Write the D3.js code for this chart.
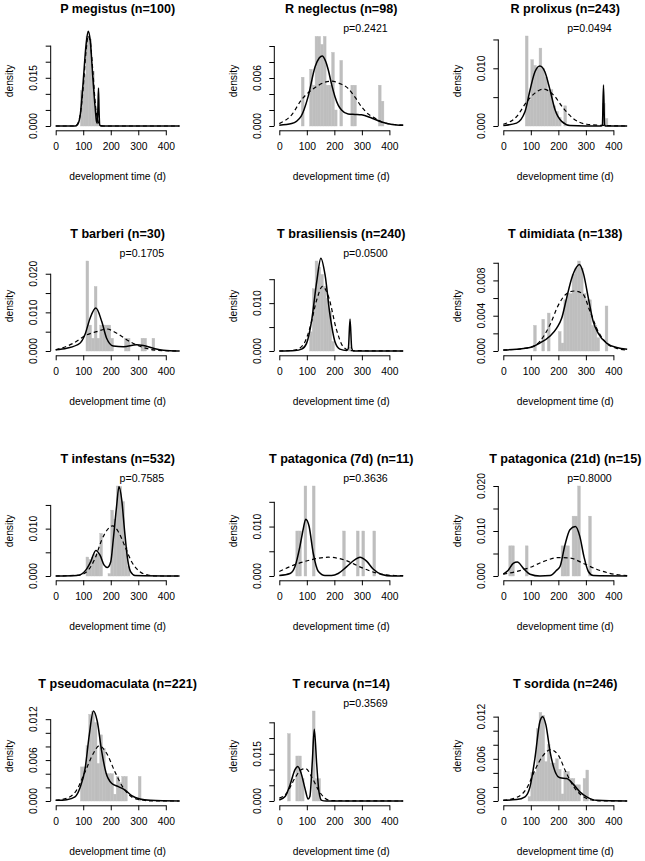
<!DOCTYPE html>
<html>
<head>
<meta charset="utf-8">
<script src="https://cdn.jsdelivr.net/npm/d3@7"></script>
<style>
  body { margin: 0; background: #fff; }
  svg { display: block; font-family: "Liberation Sans", Arial, sans-serif; }
</style>
</head>
<body>
<div id="chart"></div>
<script>
/* DATA */
const titles = ["P megistus (n=100)", "R neglectus (n=98)", "R prolixus (n=243)",
  "T barberi (n=30)", "T brasiliensis (n=240)", "T dimidiata (n=138)",
  "T infestans (n=532)", "T patagonica (7d) (n=11)", "T patagonica (21d) (n=15)",
  "T pseudomaculata (n=221)", "T recurva (n=14)", "T sordida (n=246)"];
const pLabels = [null, "p=0.2421", "p=0.0494", "p=0.1705", "p=0.0500", null,
  "p=0.7585", "p=0.3636", "p=0.8000", null, "p=0.3569", null];
// top of each density axis (largest histogram bar)
const yMaxes = [0.028, 0.01125, 0.0156, 0.0233, 0.0188, 0.0102, 0.019, 0.0182, 0.02, 0.0132, 0.0286, 0.0128];
const yTickSteps = [0.005, 0.002, 0.005, 0.005, 0.005, 0.002, 0.005, 0.005, 0.005, 0.002, 0.005, 0.002];
const yTickLabels = [["0.000", "0.015"], ["0.000", "0.006"], ["0.000", "0.010"], ["0.000", "0.010", "0.020"],
  ["0.000", "0.010"], ["0.000", "0.004", "0.008"], ["0.000", "0.010"], ["0.000", "0.010"],
  ["0.000", "0.010", "0.020"], ["0.000", "0.006", "0.012"], ["0.000", "0.015"], ["0.000", "0.006", "0.012"]];
const xTicks = [0, 100, 200, 300, 400];

// histograms: [bin start (d), density], bins 10 d wide
const histPMegistus = [[90,0.011],[100,0.016],[110,0.028],[120,0.027],[130,0.017],[140,0.005],[150,0.002]];
const histRNeglectus = [[80,0.0061],[110,0.0071],[120,0.0051],[130,0.0112],[140,0.0112],[150,0.0102],[160,0.0112],[170,0.0051],[180,0.0051],[190,0.0092],[200,0.002],[220,0.0082],[260,0.0051],[270,0.0051],[360,0.0051],[370,0.0031]];
const histRProlixus = [[80,0.0156],[90,0.0045],[100,0.0115],[110,0.0105],[120,0.0100],[130,0.0135],[140,0.0100],[150,0.0085],[160,0.0063],[170,0.0063],[180,0.0035],[190,0.0025],[200,0.0015],[220,0.0035],[360,0.0039],[370,0.0013]];
const histTBarberi = [[110,0.0233],[120,0.0067],[130,0.0033],[140,0.0167],[150,0.0033],[160,0.0067],[170,0.0067],[180,0.0067],[190,0.0067],[200,0.0033],[250,0.0033],[260,0.0033],[310,0.0033],[320,0.0033],[350,0.0033]];
const histTBrasiliensis = [[110,0.004],[120,0.013],[130,0.0188],[140,0.0175],[150,0.016],[160,0.0135],[170,0.011],[180,0.0083],[190,0.002],[250,0.0008]];
const histTDimidiata = [[110,0.0029],[140,0.0036],[160,0.0043],[200,0.0022],[210,0.0009],[220,0.0058],[230,0.0065],[240,0.0065],[250,0.0087],[260,0.0094],[270,0.0102],[280,0.0094],[290,0.0065],[300,0.0058],[310,0.0058],[320,0.0029],[330,0.0029],[340,0.0015],[370,0.0051]];
const histTInfestans = [[110,0.004],[120,0.0035],[130,0.004],[140,0.0045],[150,0.0045],[160,0.009],[190,0.0005],[200,0.0139],[210,0.012],[220,0.019],[230,0.0189],[240,0.0157],[250,0.006],[260,0.002]];
const histTPatagonica7 = [[60,0.0091],[70,0.0091],[90,0.0182],[120,0.0182],[230,0.0091],[280,0.0091],[300,0.0091],[340,0.0091]];
const histTPatagonica21 = [[20,0.0067],[30,0.0067],[80,0.0067],[210,0.0067],[220,0.0067],[230,0.0067],[250,0.0133],[260,0.0133],[270,0.02],[310,0.0133]];
const histTPseudomaculata = [[90,0.005],[100,0.005],[110,0.0081],[120,0.0127],[130,0.0131],[140,0.0115],[150,0.0055],[160,0.0097],[170,0.0077],[180,0.004],[190,0.004],[200,0.004],[210,0.001],[220,0.0036],[230,0.0027],[240,0.0036],[250,0.0036],[300,0.0036]];
const histTRecurva = [[30,0.0214],[60,0.0143],[70,0.0143],[80,0.0071],[120,0.0286],[130,0.0071],[140,0.0071]];
const histTSordida = [[90,0.0006],[100,0.0041],[110,0.0041],[120,0.0103],[130,0.0126],[140,0.0122],[150,0.0056],[160,0.008],[170,0.0054],[180,0.0054],[190,0.006],[200,0.0045],[210,0.001],[220,0.0042],[230,0.0042],[240,0.0032],[250,0.0032],[260,0.0023],[270,0.0023],[290,0.0032],[300,0.0044]];

// solid curves: [day, density]
const fitPMegistus = [[0,0],[70,0],[80,0.0005],[90,0.004],[100,0.014],[110,0.025],[118,0.0295],[125,0.027],[135,0.015],[145,0.004],[148,0.0015],[151,0.0008],[153.5,0.006],[155.5,0.0118],[157.5,0.005],[160,0.0003],[165,0],[450,0]];
const fitRNeglectus = [[0,0.0001],[45,0.0003],[79,0.0012],[105,0.0037],[130,0.0074],[145,0.0085],[156,0.00875],[167,0.0082],[178,0.007],[190,0.0052],[202,0.0037],[214,0.0026],[226,0.002],[250,0.0015],[275,0.00145],[299,0.0014],[335,0.001],[372,0.0005],[410,0.0002],[450,0.0001]];
const fitRProlixus = [[0,0.0001],[48,0.0005],[79,0.0025],[97,0.0062],[115,0.0094],[133,0.0104],[151,0.0094],[170,0.0062],[188,0.0028],[212,0.0008],[242,0.0001],[355,0],[360,0.0002],[364,0.0071],[368,0.0002],[372,0],[450,0]];
const fitTBarberi = [[0,0.0003],[40,0.0007],[88,0.002],[106,0.0042],[125,0.0085],[146,0.0111],[167,0.0077],[185,0.0033],[209,0.0013],[246,0.0011],[294,0.0016],[318,0.0014],[355,0.0007],[391,0.0002],[450,0]];
const fitTBrasiliensis = [[0,0],[57,0.0001],[81,0.0004],[99,0.0016],[117,0.0062],[136,0.0145],[151,0.0194],[166,0.016],[184,0.0076],[202,0.002],[220,0.0004],[245,0.0001],[251,0.0006],[257,0.0067],[263,0.0006],[269,0],[450,0]];
const fitTDimidiata = [[0,0.0001],[48,0.0002],[97,0.0004],[133,0.0009],[170,0.0017],[194,0.0026],[212,0.0037],[230,0.006],[248,0.0082],[266,0.0095],[276,0.0098],[291,0.0088],[309,0.006],[327,0.0033],[345,0.002],[375,0.0009],[412,0.0004],[450,0.0002]];
const fitTInfestans = [[0,0],[76,0.0001],[94,0.0004],[110,0.0013],[127,0.003],[146,0.0054],[161,0.0044],[176,0.0023],[188,0.0018],[200,0.003],[209,0.0076],[221,0.0146],[230,0.0189],[240,0.016],[250,0.0097],[260,0.0041],[272,0.0009],[288,0.0001],[450,0]];
const fitTPatagonica7 = [[0,0.0001],[39,0.0005],[57,0.0019],[75,0.006],[87,0.0095],[96,0.0115],[108,0.0101],[123,0.0047],[142,0.0009],[166,0.0001],[190,0.0001],[214,0.0005],[245,0.0019],[275,0.0033],[293,0.0038],[317,0.003],[341,0.0014],[372,0.0003],[410,0],[450,0]];
const fitTPatagonica21 = [[0,0.0004],[18,0.0013],[36,0.0028],[51,0.0031],[73,0.0017],[97,0.0004],[133,0],[170,0.0001],[194,0.0013],[206,0.0021],[224,0.0069],[242,0.0103],[262,0.011],[278,0.0088],[293,0.0043],[309,0.001],[327,0.0001],[450,0]];
const fitTPseudomaculata = [[0,0.0001],[40,0.0002],[70,0.0006],[88,0.0019],[107,0.0048],[122,0.0097],[137,0.0132],[151,0.0117],[167,0.0073],[183,0.0041],[203,0.0026],[228,0.0021],[252,0.0016],[276,0.0008],[306,0.0003],[343,0.0001],[450,0]];
const fitTRecurva = [[0,0.0003],[21,0.0014],[39,0.0051],[57,0.01],[67,0.011],[79,0.0089],[93,0.0041],[105,0.0006],[111,0.0014],[120,0.0126],[127,0.0228],[136,0.0115],[144,0.003],[154,0.0002],[170,0],[450,0]];
const fitTSordida = [[0,0.0001],[48,0.0002],[79,0.0006],[97,0.002],[115,0.0061],[133,0.0113],[143,0.012],[155,0.0108],[170,0.007],[188,0.0042],[206,0.0033],[230,0.0032],[254,0.0024],[278,0.0013],[303,0.0006],[339,0.0001],[450,0]];

// dashed curves: [day, density]
const normPMegistus = [[0,0],[70,0],[80,0.0008],[90,0.004],[100,0.012],[110,0.023],[118,0.028],[126,0.026],[135,0.017],[145,0.006],[155,0.0012],[165,0.0001],[175,0],[450,0]];
const normRNeglectus = [[0,0.0003],[45,0.0014],[81,0.0033],[130,0.0048],[160,0.0054],[190,0.0056],[220,0.0053],[250,0.0047],[275,0.0036],[299,0.0024],[323,0.0015],[347,0.001],[372,0.0005],[396,0.0003],[450,0.0001]];
const normRProlixus = [[0,0.0003],[48,0.0016],[85,0.0042],[115,0.0057],[145,0.0064],[182,0.0054],[218,0.0031],[254,0.0013],[303,0.0003],[363,0.0001],[450,0]];
const normTBarberi = [[0,0.0003],[64,0.002],[113,0.0042],[149,0.005],[185,0.0057],[222,0.0046],[270,0.0024],[318,0.0009],[367,0.0002],[450,0]];
const normTBrasiliensis = [[0,0],[57,0.0002],[87,0.0013],[111,0.0048],[136,0.0107],[157,0.0135],[178,0.0115],[208,0.0044],[232,0.0009],[257,0.0001],[450,0]];
const normTDimidiata = [[0,0.0001],[97,0.0004],[133,0.0011],[170,0.003],[200,0.0052],[230,0.0065],[257,0.0068],[288,0.0065],[315,0.0045],[345,0.0022],[375,0.0009],[412,0.0003],[450,0.0001]];
const normTInfestans = [[0,0],[88,0.0002],[119,0.0013],[143,0.0037],[167,0.0076],[191,0.01],[207,0.0106],[227,0.0094],[252,0.0062],[276,0.003],[306,0.0009],[336,0.0002],[367,0],[450,0]];
const normTPatagonica7 = [[0,0.0009],[57,0.0023],[117,0.0033],[178,0.0038],[239,0.0032],[299,0.0017],[360,0.0005],[420,0.0001],[450,0.0001]];
const normTPatagonica21 = [[0,0.0004],[48,0.001],[97,0.0019],[145,0.0032],[200,0.0041],[242,0.004],[291,0.0028],[339,0.0015],[387,0.0006],[450,0.0001]];
const normTPseudomaculata = [[0,0.0001],[40,0.0004],[76,0.0016],[107,0.0043],[137,0.007],[158,0.0081],[185,0.007],[215,0.0043],[246,0.0019],[276,0.0006],[306,0.0002],[355,0],[450,0]];
const normTRecurva = [[0,0.0009],[27,0.0025],[57,0.0073],[81,0.01],[96,0.0103],[117,0.0078],[142,0.0035],[166,0.0009],[190,0.0001],[450,0]];
const normTSordida = [[0,0.0001],[48,0.0005],[85,0.0018],[115,0.0044],[145,0.0065],[172,0.0073],[200,0.0065],[230,0.0039],[260,0.0018],[291,0.0006],[327,0.0001],[375,0],[450,0]];

const histograms = [histPMegistus, histRNeglectus, histRProlixus, histTBarberi, histTBrasiliensis, histTDimidiata,
  histTInfestans, histTPatagonica7, histTPatagonica21, histTPseudomaculata, histTRecurva, histTSordida];
const fits = [fitPMegistus, fitRNeglectus, fitRProlixus, fitTBarberi, fitTBrasiliensis, fitTDimidiata,
  fitTInfestans, fitTPatagonica7, fitTPatagonica21, fitTPseudomaculata, fitTRecurva, fitTSordida];
const norms = [normPMegistus, normRNeglectus, normRProlixus, normTBarberi, normTBrasiliensis, normTDimidiata,
  normTInfestans, normTPatagonica7, normTPatagonica21, normTPseudomaculata, normTRecurva, normTSordida];

/* LAYOUT */
const width = 645, height = 861;
const colX = [55.7, 279.3, 503.3]; // pixel of day 0 in each column
const rowH = 225, baseY = 126, plotH = 90, px400 = 110.1;

const svg = d3.select("#chart").append("svg")
  .attr("width", width)
  .attr("height", height);

titles.forEach((title, i) => {
  const col = i % 3, row = Math.floor(i / 3);
  const x0 = colX[col], y0 = baseY + row * rowH, top = row * rowH;

  const xScale = d3.scaleLinear().domain([0, 400]).range([x0, x0 + px400]);
  const yScale = d3.scaleLinear().domain([0, yMaxes[i]]).range([y0, y0 - plotH]);
  const g = svg.append("g");

  // histogram (grey bars, border in same grey so neighbours join up)
  g.selectAll("rect.bar")
    .data(histograms[i])
    .join("rect")
    .attr("class", "bar")
    .attr("x", d => xScale(d[0]))
    .attr("width", d => xScale(d[0] + 10) - xScale(d[0]))
    .attr("y", d => yScale(d[1]))
    .attr("height", d => y0 - yScale(d[1]))
    .attr("fill", "#bebebe")
    .attr("stroke", "#bebebe")
    .attr("stroke-width", 0.4);

  const line = d3.line()
    .x(d => xScale(d[0]))
    .y(d => yScale(d[1]))
    .curve(d3.curveMonotoneX);

  g.append("path")
    .attr("d", line(norms[i]))
    .attr("fill", "none")
    .attr("stroke", "#000")
    .attr("stroke-width", 1.2)
    .attr("stroke-dasharray", "4,3");

  g.append("path")
    .attr("d", line(fits[i]))
    .attr("fill", "none")
    .attr("stroke", "#000")
    .attr("stroke-width", 1.5);

  // x axis
  const xAxis = d3.axisBottom(xScale).tickValues(xTicks).tickSize(5).tickSizeOuter(0).tickFormat(d3.format("d"));
  const gx = g.append("g")
    .attr("transform", `translate(0, ${y0 + 4.3})`)
    .call(xAxis);
  gx.select(".domain").attr("stroke-width", 1);
  gx.selectAll("text").attr("y", 19.4).attr("dy", null)
    .attr("font-size", 10.3).attr("font-family", null).attr("fill", "#000");

  // y axis: line only between first and last tick, as in base R
  const ticks = d3.range(0, yMaxes[i] + 1e-9, yTickSteps[i]).map(v => +v.toFixed(4));
  const yAxis = d3.axisLeft(yScale).tickValues(ticks).tickSize(5).tickFormat("");
  const gy = g.append("g")
    .attr("transform", `translate(${x0 - 5}, 0)`)
    .call(yAxis);
  gy.select(".domain").remove();
  gy.append("line")
    .attr("y1", yScale(0)).attr("y2", yScale(ticks[ticks.length - 1]))
    .attr("stroke", "#000");

  yTickLabels[i].forEach(lbl => {
    const yy = yScale(+lbl);
    g.append("text")
      .attr("transform", `translate(${x0 - 18.7}, ${yy}) rotate(-90)`)
      .attr("text-anchor", "middle")
      .attr("font-size", 10.3)
      .text(lbl);
  });

  // labels
  g.append("text")
    .attr("x", xScale(225)).attr("y", top + 12.8)
    .attr("text-anchor", "middle")
    .attr("font-size", 12.6).attr("font-weight", "bold")
    .text(title);

  if (pLabels[i]) {
    g.append("text")
      .attr("x", xScale(313)).attr("y", top + 32)
      .attr("text-anchor", "middle")
      .attr("font-size", 10.6)
      .text(pLabels[i]);
  }

  g.append("text")
    .attr("x", xScale(225)).attr("y", top + 179.7)
    .attr("text-anchor", "middle")
    .attr("font-size", 10.3)
    .text("development time (d)");

  g.append("text")
    .attr("transform", `translate(${x0 - 42.7}, ${top + 81}) rotate(-90)`)
    .attr("text-anchor", "middle")
    .attr("font-size", 10.3)
    .text("density");
});
</script>
</body>
</html>
